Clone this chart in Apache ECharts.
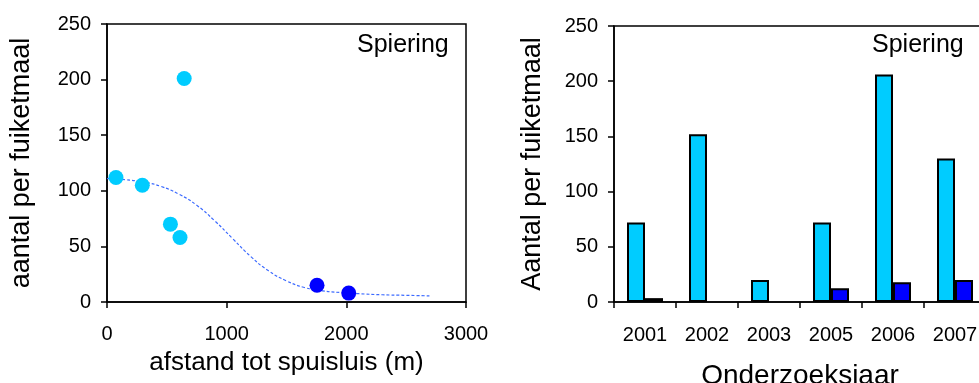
<!DOCTYPE html>
<html>
<head>
<meta charset="utf-8">
<script src="https://cdn.jsdelivr.net/npm/echarts@6/dist/echarts.min.js"></script>
<style>
  html, body { margin: 0; padding: 0; background: #fff; overflow: hidden; }
  #chart { width: 1000px; height: 383px; }
</style>
</head>
<body>
<div id="chart"></div>
<script>
// left panel: catch vs distance to the sluice
const distLight = [75, 295, 530, 610, 645];
const countLight = [112, 105, 70, 58, 201];
const distDark = [1755, 2020];
const countDark = [15, 8];
// fitted curve
const fitDist = [0, 150, 300, 450, 600, 750, 900, 1050, 1200, 1350, 1500, 1650, 1800, 1950, 2100, 2300, 2500, 2700];
const fitCount = [111, 110, 108, 104, 97, 87, 73, 57, 41, 28, 19, 13, 10, 8.5, 7.5, 6.5, 6, 5.5];

// right panel: per year
const years = ["2001", "2002", "2003", "2005", "2006", "2007"];
const yearLight = [72, 152, 20, 72, 206, 130];
const yearDark = [3.5, null, null, 12.5, 18, 20];

const yTicks = { min: 0, max: 250, interval: 50 };

const font = "'Liberation Sans', Arial, sans-serif";
const black = "#000";

const chart = echarts.init(document.getElementById("chart"), null, { renderer: "canvas" });

const axisLine = { show: true, lineStyle: { color: black, width: 1.5 } };
const tickOut = { show: true, inside: false, length: 6, lineStyle: { color: black, width: 1.5 } };
const tickLabel = { color: black, fontSize: 20, fontFamily: font, formatter: (v) => String(v) };

chart.setOption({
  animation: false,
  backgroundColor: "#fff",
  grid: [
    { left: 107, top: 24, width: 359, height: 278, outerBoundsMode: "none", show: true, borderColor: black, borderWidth: 1.5, backgroundColor: "transparent" },
    { left: 614, top: 26, width: 372, height: 276, outerBoundsMode: "none", show: true, borderColor: black, borderWidth: 1.5, backgroundColor: "transparent" },
  ],
  xAxis: [
    {
      gridIndex: 0,
      type: "value",
      min: 0,
      max: 3000,
      interval: 1000,
      axisLine,
      axisTick: tickOut,
      axisLabel: { ...tickLabel, margin: 22 },
      splitLine: { show: false },
      name: "afstand tot spuisluis (m)",
      nameLocation: "middle",
      nameGap: 48,
      nameTextStyle: { color: black, fontSize: 26, fontFamily: font },
    },
    {
      gridIndex: 1,
      type: "category",
      data: years,
      axisLine,
      axisTick: { ...tickOut, alignWithLabel: false },
      axisLabel: { color: black, fontSize: 20, fontFamily: font, margin: 23 },
      name: "Onderzoeksjaar",
      nameLocation: "middle",
      nameGap: 60,
      nameTextStyle: { color: black, fontSize: 28, fontFamily: font },
    },
  ],
  yAxis: [
    {
      gridIndex: 0,
      type: "value",
      ...yTicks,
      axisLine,
      axisTick: tickOut,
      axisLabel: { ...tickLabel, margin: 16 },
      splitLine: { show: false },
      name: "aantal per fuiketmaal",
      nameLocation: "middle",
      nameGap: 72,
      nameTextStyle: { color: black, fontSize: 27, fontFamily: font },
    },
    {
      gridIndex: 1,
      type: "value",
      ...yTicks,
      axisLine,
      axisTick: tickOut,
      axisLabel: { ...tickLabel, margin: 16 },
      splitLine: { show: false },
      name: "Aantal per fuiketmaal",
      nameLocation: "middle",
      nameGap: 68,
      nameTextStyle: { color: black, fontSize: 27, fontFamily: font },
    },
  ],
  graphic: [
    { type: "text", left: 357, top: 33, style: { text: "Spiering", fill: black, fontSize: 25, fontFamily: font } },
    { type: "text", left: 872, top: 33, style: { text: "Spiering", fill: black, fontSize: 25, fontFamily: font } },
  ],
  series: [
    {
      type: "line",
      xAxisIndex: 0,
      yAxisIndex: 0,
      data: fitDist.map((d, i) => [d, fitCount[i]]),
      smooth: true,
      showSymbol: false,
      lineStyle: { color: "#3d6bff", width: 1.2, type: [3, 2] },
      z: 1,
    },
    {
      type: "scatter",
      xAxisIndex: 0,
      yAxisIndex: 0,
      data: distLight.map((d, i) => [d, countLight[i]]),
      symbolSize: 15,
      itemStyle: { color: "#00ccff", opacity: 1 },
      z: 2,
    },
    {
      type: "scatter",
      xAxisIndex: 0,
      yAxisIndex: 0,
      data: distDark.map((d, i) => [d, countDark[i]]),
      symbolSize: 15,
      itemStyle: { color: "#0000ff", opacity: 1 },
      z: 2,
    },
    {
      type: "bar",
      xAxisIndex: 1,
      yAxisIndex: 1,
      data: yearLight,
      barWidth: 18,
      barGap: "0%",
      itemStyle: { color: "#00ccff", borderColor: black, borderWidth: 2 },
    },
    {
      type: "bar",
      xAxisIndex: 1,
      yAxisIndex: 1,
      data: yearDark,
      barWidth: 18,
      barGap: "0%",
      itemStyle: { color: "#0000ff", borderColor: black, borderWidth: 2 },
    },
  ],
});
</script>
</body>
</html>
